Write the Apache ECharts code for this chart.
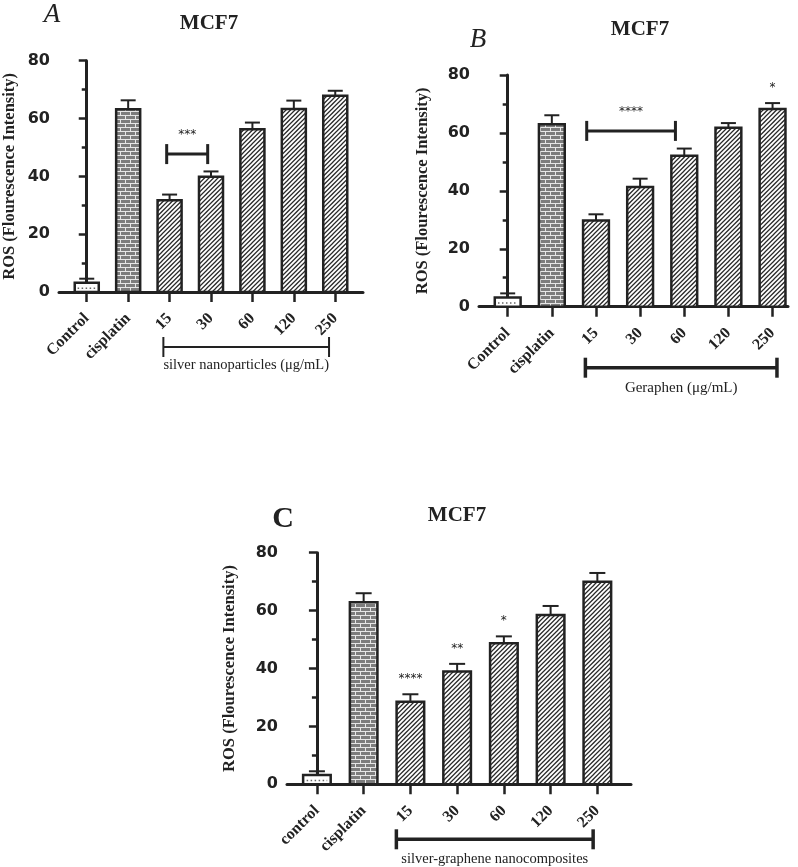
<!DOCTYPE html>
<html><head><meta charset="utf-8">
<script src="https://cdn.jsdelivr.net/npm/echarts@6/dist/echarts.min.js"></script>
<style>html,body{margin:0;padding:0;background:#fff}#c{width:798px;height:867px}</style>
</head><body><div id="c"></div>
<script>
// ---------- data ----------
const categoriesA = ['Control', 'cisplatin', '15', '30', '60', '120', '250'];
const categoriesB = ['Control', 'cisplatin', '15', '30', '60', '120', '250'];
const categoriesC = ['control', 'cisplatin', '15', '30', '60', '120', '250'];
const meansA = [3.2, 63.2, 31.7, 39.9, 56.3, 63.3, 67.9];
const errTopA = [4.6, 66.3, 33.7, 41.7, 58.6, 66.2, 69.6];
const meansB = [3.2, 63.0, 29.8, 41.3, 52.1, 61.8, 68.3];
const errTopB = [4.6, 66.1, 31.9, 44.2, 54.6, 63.4, 70.3];
const meansC = [3.2, 62.9, 28.5, 39.0, 48.7, 58.5, 70.0];
const errTopC = [4.5, 66.0, 31.1, 41.6, 51.1, 61.6, 73.0];
const starsA = ['', '', '', '', '', '', ''];
const starsB = ['', '', '', '', '', '', '*'];
const starsC = ['', '', '****', '**', '*', '', ''];
const sigA = [[1.93, 2.92, 47.7]];
const sigLabelA = ['***'];
const sigB = [[1.79, 3.80, 60.7]];
const sigLabelB = ['****'];
const sigC = [];
const sigLabelC = [];
const groupRangeA = [1.85, 5.85];
const groupRangeB = [1.76, 6.1];
const groupRangeC = [1.70, 5.91];
const groupLabelA = 'silver nanoparticles (μg/mL)';
const groupLabelB = 'Geraphen (μg/mL)';
const groupLabelC = 'silver-graphene nanocomposites';
const yTickValues = [0, 20, 40, 60, 80];
const yAxisTitle = 'ROS (Flourescence Intensity)';
const chartTitle = 'MCF7';
const panelLetters = ['A', 'B', 'C'];

// ---------- patterns ----------
function makeHatch() {
  const s = 9;
  const c = document.createElement('canvas'); c.width = s; c.height = s;
  const g = c.getContext('2d');
  g.fillStyle = '#fff'; g.fillRect(0, 0, s, s);
  g.strokeStyle = '#2a2a2a'; g.lineWidth = 1.25;
  g.beginPath();
  [0, 4.5, 9, 13.5, 18].forEach(k => { g.moveTo(k + 2, -2); g.lineTo(-2, k + 2); });
  g.stroke();
  return c;
}
function makeBrick() {
  const w = 10, h = 8;
  const c = document.createElement('canvas'); c.width = w; c.height = h;
  const g = c.getContext('2d');
  g.fillStyle = '#7c7c7c'; g.fillRect(0, 0, w, h);
  g.fillStyle = '#e6e6e6';
  g.fillRect(0, 3, w, 1); g.fillRect(0, 7, w, 1);
  g.fillRect(0, 0, 1, 3); g.fillRect(5, 4, 1, 3);
  return c;
}
const hatchFill = { image: makeHatch(), repeat: 'repeat' };
const brickFill = { image: makeBrick(), repeat: 'repeat' };
const INK = '#222';
function fillFor(i) { return i === 0 ? '#fff' : (i === 1 ? brickFill : hatchFill); }

const panels = [
  { cats: categoriesA, means: meansA, err: errTopA, stars: starsA, sig: sigA, sigLabel: sigLabelA,
    groupRange: groupRangeA, groupLabel: groupLabelA,
    grid: { left: 58, top: 60.7, width: 305, height: 231.3 }, xmin: -0.67, xmax: 6.67,
    barFrac: 0.58, cap: 7.5, groupOff: 55, groupTextOff: 18, groupLW: 2, groupFont: 14.5, nameGap: 41 },
  { cats: categoriesB, means: meansB, err: errTopB, stars: starsB, sig: sigB, sigLabel: sigLabelB,
    groupRange: groupRangeB, groupLabel: groupLabelB,
    grid: { left: 479, top: 75, width: 309, height: 231.7 }, xmin: -0.65, xmax: 6.35,
    barFrac: 0.585, cap: 7.5, groupOff: 61, groupTextOff: 20, groupLW: 3.5, groupFont: 15, nameGap: 48 },
  { cats: categoriesC, means: meansC, err: errTopC, stars: starsC, sig: sigC, sigLabel: sigLabelC,
    groupRange: groupRangeC, groupLabel: groupLabelC,
    grid: { left: 287, top: 552.7, width: 344, height: 231.6 }, xmin: -0.64, xmax: 6.72,
    barFrac: 0.59, cap: 8, groupOff: 55, groupTextOff: 20, groupLW: 3.5, groupFont: 14.5, nameGap: 49 }
];

const grids = [], xAxes = [], yAxes = [], series = [];
panels.forEach((p, k) => {
  grids.push(Object.assign({ containLabel: false }, p.grid));
  const idx = p.cats.map((_, i) => i);
  xAxes.push({
    type: 'value', gridIndex: k, min: p.xmin, max: p.xmax,
    splitLine: { show: false },
    axisLine: { show: true, lineStyle: { color: INK, width: 3 } },
    axisTick: { show: true, customValues: idx, length: 10, lineStyle: { color: INK, width: 2.5 } },
    axisLabel: {
      show: true, customValues: idx, rotate: 45, margin: 24,
      formatter: v => p.cats[Math.round(v)],
      color: INK, fontFamily: 'Liberation Serif', fontWeight: 'bold', fontSize: 16
    }
  });
  yAxes.push({
    type: 'value', gridIndex: k, min: yTickValues[0], max: yTickValues[yTickValues.length - 1],
    interval: yTickValues[1] - yTickValues[0],
    splitLine: { show: false },
    axisLine: { show: true, lineStyle: { color: INK, width: 3 } },
    axisTick: { show: true, length: 8, lineStyle: { color: INK, width: 2.5 } },
    minorTick: { show: true, splitNumber: 2, length: 5, lineStyle: { color: INK, width: 2.5 } },
    axisLabel: { color: INK, fontFamily: 'DejaVu Sans', fontWeight: 'bold', fontSize: 16, margin: 9 },
    name: yAxisTitle, nameLocation: 'middle', nameGap: p.nameGap, nameRotate: 90,
    nameTextStyle: { color: INK, fontFamily: 'Liberation Serif', fontWeight: 'bold', fontSize: 16.5 }
  });
  // bars
  series.push({
    type: 'custom', xAxisIndex: k, yAxisIndex: k, silent: true,
    data: p.means.map((v, i) => [i, v]),
    renderItem: (params, api) => {
      const x = api.value(0), v = api.value(1);
      const base = api.coord([x, 0]), top = api.coord([x, v]);
      const w = api.size([1, 0])[0] * p.barFrac;
      return { type: 'rect',
        shape: { x: base[0] - w / 2, y: top[1], width: w, height: base[1] - top[1] },
        style: { fill: fillFor(params.dataIndex), stroke: INK, lineWidth: 2.5 } };
    }
  });
  // error bars + control dots + stars
  series.push({
    type: 'custom', xAxisIndex: k, yAxisIndex: k, silent: true,
    data: p.means.map((v, i) => [i, v, p.err[i]]),
    renderItem: (params, api) => {
      const x = api.value(0), m = api.value(1), t = api.value(2);
      const p0 = api.coord([x, m]), p1 = api.coord([x, t]);
      const ch = [
        { type: 'line', shape: { x1: p0[0], y1: p0[1], x2: p1[0], y2: p1[1] }, style: { stroke: INK, lineWidth: 2 } },
        { type: 'line', shape: { x1: p1[0] - p.cap, y1: p1[1], x2: p1[0] + p.cap, y2: p1[1] }, style: { stroke: INK, lineWidth: 2 } }
      ];
      if (params.dataIndex === 0) {
        const a = api.coord([x - 0.22, m * 0.4]), b = api.coord([x + 0.22, m * 0.4]);
        ch.push({ type: 'line', shape: { x1: a[0], y1: a[1], x2: b[0], y2: b[1] },
          style: { stroke: '#666', lineWidth: 1.5, lineDash: [1.5, 2.5] } });
      }
      const s = p.stars[params.dataIndex];
      if (s) {
        ch.push({ type: 'text', x: p1[0], y: p1[1] - 15,
          style: { text: s, fill: INK, font: '12px "DejaVu Sans"', align: 'center', verticalAlign: 'middle' } });
      }
      return { type: 'group', children: ch };
    }
  });
  // significance brackets
  if (p.sig.length) {
    series.push({
      type: 'custom', xAxisIndex: k, yAxisIndex: k, silent: true,
      data: p.sig, encode: { x: [0, 1], y: 2 },
      renderItem: (params, api) => {
        const a = api.coord([api.value(0), api.value(2)]), b = api.coord([api.value(1), api.value(2)]);
        return { type: 'group', children: [
          { type: 'line', shape: { x1: a[0], y1: a[1], x2: b[0], y2: b[1] }, style: { stroke: INK, lineWidth: 3 } },
          { type: 'line', shape: { x1: a[0], y1: a[1] - 10, x2: a[0], y2: a[1] + 10 }, style: { stroke: INK, lineWidth: 3 } },
          { type: 'line', shape: { x1: b[0], y1: b[1] - 10, x2: b[0], y2: b[1] + 10 }, style: { stroke: INK, lineWidth: 3 } },
          { type: 'text', x: (a[0] + b[0]) / 2, y: a[1] - 19,
            style: { text: p.sigLabel[params.dataIndex], fill: INK, font: '12px "DejaVu Sans"', align: 'center', verticalAlign: 'middle' } }
        ] };
      }
    });
  }
  // group bracket below axis
  series.push({
    type: 'custom', xAxisIndex: k, yAxisIndex: k, silent: true,
    data: [[p.groupRange[0], p.groupRange[1], 0]], encode: { x: [0, 1], y: 2 },
    renderItem: (params, api) => {
      const a = api.coord([api.value(0), api.value(2)]), b = api.coord([api.value(1), api.value(2)]);
      const y = a[1] + p.groupOff;
      return { type: 'group', children: [
        { type: 'line', shape: { x1: a[0], y1: y, x2: b[0], y2: y }, style: { stroke: INK, lineWidth: p.groupLW } },
        { type: 'line', shape: { x1: a[0], y1: y - 10, x2: a[0], y2: y + 10 }, style: { stroke: INK, lineWidth: p.groupLW } },
        { type: 'line', shape: { x1: b[0], y1: y - 10, x2: b[0], y2: y + 10 }, style: { stroke: INK, lineWidth: p.groupLW } },
        { type: 'text', x: (a[0] + b[0]) / 2, y: y + p.groupTextOff,
          style: { text: p.groupLabel, fill: INK, font: p.groupFont + 'px "Liberation Serif"', align: 'center', verticalAlign: 'middle' } }
      ] };
    }
  });
});

function txt(text, x, y, font) {
  return { type: 'text', x: x, y: y, silent: true,
    style: { text: text, font: font, fill: INK, textAlign: 'center', textVerticalAlign: 'middle', align: 'center', verticalAlign: 'middle' } };
}
const graphic = [
  txt(chartTitle, 209, 24, 'bold 21px "Liberation Serif"'),
  txt(chartTitle, 640, 30, 'bold 21px "Liberation Serif"'),
  txt(chartTitle, 457, 516, 'bold 21px "Liberation Serif"'),
  txt(panelLetters[0], 52, 15, 'italic 27px "Liberation Serif"'),
  txt(panelLetters[1], 478, 40, 'italic 27px "Liberation Serif"'),
  txt(panelLetters[2], 283, 519, 'bold 30px "Liberation Serif"')
];

const chart = echarts.init(document.getElementById('c'), null, { renderer: 'canvas' });
chart.setOption({
  animation: false,
  backgroundColor: '#fff',
  grid: grids, xAxis: xAxes, yAxis: yAxes, series: series, graphic: graphic
});
</script></body></html>
